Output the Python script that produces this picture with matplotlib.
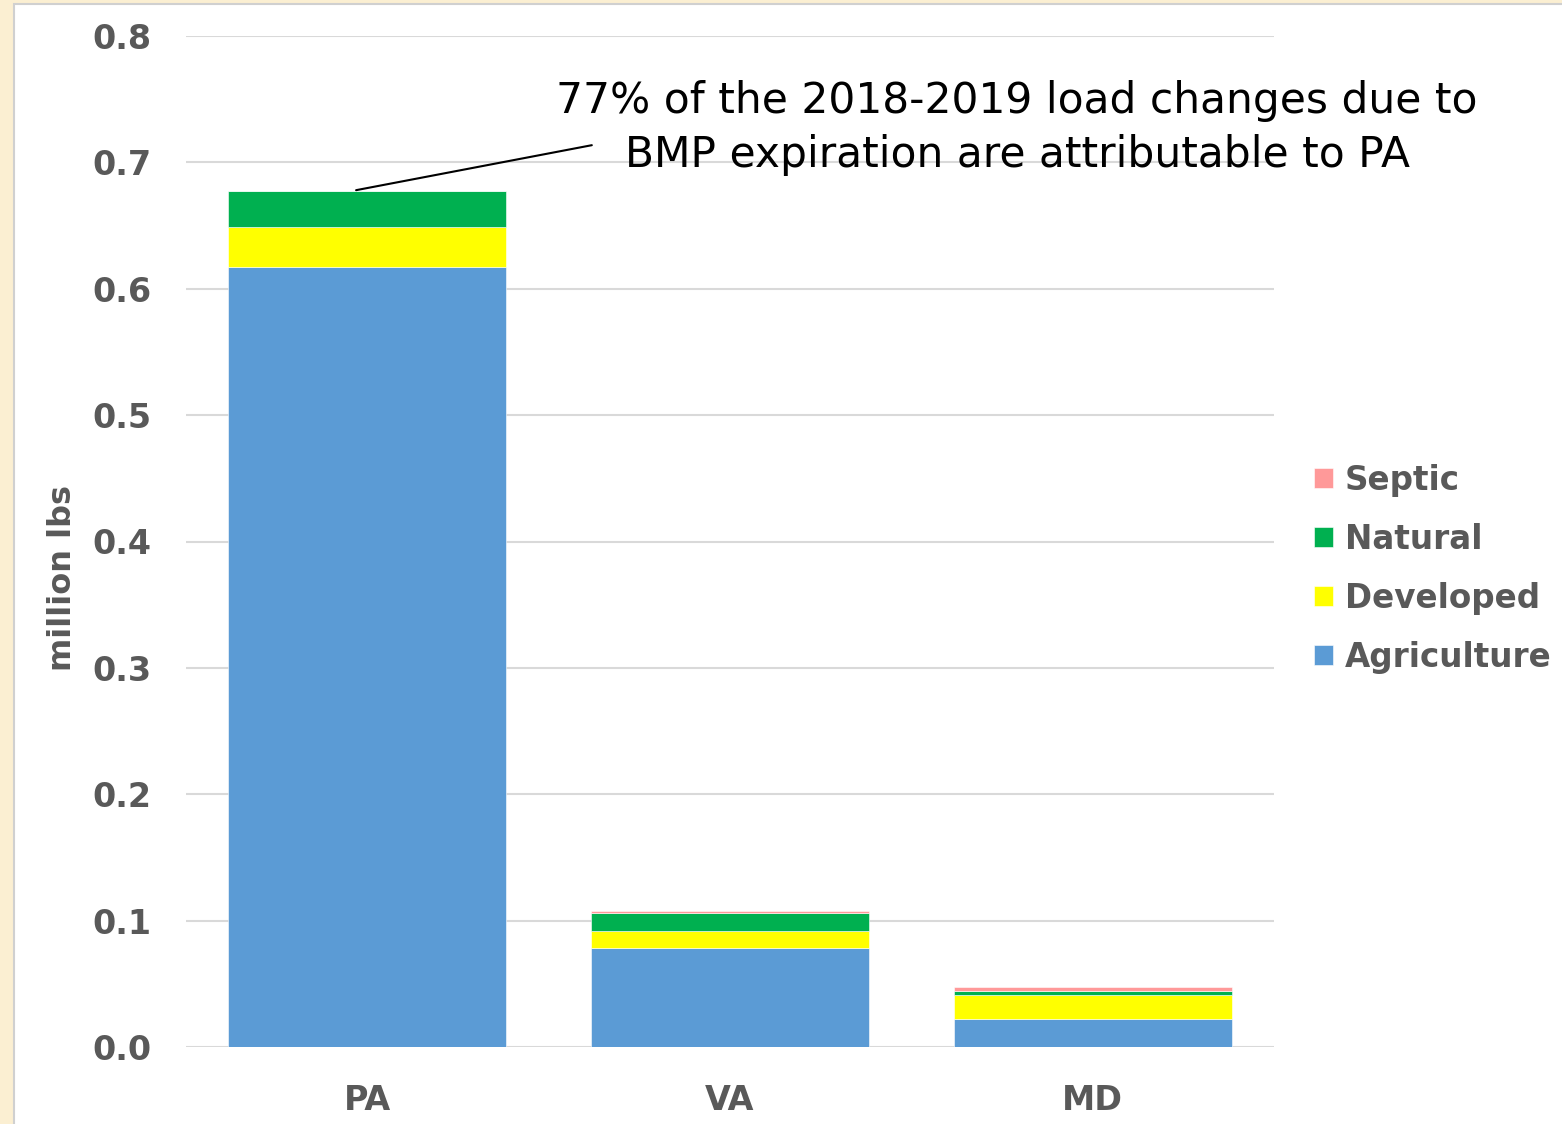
import numpy as np
import matplotlib
matplotlib.use('Agg')
import matplotlib.pyplot as plt
from matplotlib.patches import Rectangle

states = ['PA', 'VA', 'MD']
agriculture = [0.617, 0.078, 0.0224]
developed = [0.032, 0.0137, 0.019]
natural = [0.028, 0.0145, 0.0027]
septic = [0.0005, 0.0016, 0.0032]

series = [('Agriculture', agriculture, '#5b9bd5'),
          ('Developed', developed, '#ffff00'),
          ('Natural', natural, '#00b050'),
          ('Septic', septic, '#ff9999')]

gris = '#595959'

fig = plt.figure(figsize=(15.62, 11.24), dpi=100)
fig.patch.set_facecolor('#fbefd2')
# fond blanc avec bordure grise
fig.patches.append(Rectangle((14 / 1562, -0.01), 1.0, 1.01 - 4 / 1124,
                             transform=fig.transFigure, facecolor='white',
                             edgecolor='#d0d0d0', linewidth=1.5, zorder=-10))

ax = fig.add_axes([186 / 1562, 1 - 1047 / 1124, (1274 - 186) / 1562, (1047 - 36) / 1124])
ax.set_facecolor('none')

x = np.arange(len(states))
bas = np.zeros(len(states))
handles = {}
for nom, vals, couleur in series:
    b = ax.bar(x, vals, width=0.767, bottom=bas, color=couleur, label=nom,
               edgecolor='white', linewidth=0.4, zorder=3)
    handles[nom] = b
    bas = bas + np.array(vals)

ax.set_xlim(-0.5, 2.5)
ax.set_ylim(0, 0.8)
ax.set_yticks(np.arange(0, 0.81, 0.1))
ax.set_yticklabels(['%.1f' % v for v in np.arange(0, 0.81, 0.1)])
ax.yaxis.grid(True, color='#d9d9d9', linewidth=1.5, zorder=0)
ax.set_axisbelow(True)
for s in ax.spines.values():
    s.set_visible(False)
ax.tick_params(axis='both', length=0, labelsize=24, labelcolor=gris)
ax.tick_params(axis='y', pad=25)
ax.tick_params(axis='x', pad=27)
ax.set_xticks(x)
ax.set_xticklabels(states)
for lab in ax.get_xticklabels() + ax.get_yticklabels():
    lab.set_fontweight('bold')

ax.set_ylabel('million lbs', fontsize=23, fontweight='bold', color=gris)
ax.yaxis.set_label_coords(-0.099, 0.464)

ordre = ['Septic', 'Natural', 'Developed', 'Agriculture']
leg = ax.legend([handles[n] for n in ordre], ordre, loc='center left',
                bbox_to_anchor=(1.037, 0.473), frameon=False, handlelength=0.57,
                handleheight=0.57, handletextpad=0.36, labelspacing=0.8,
                borderaxespad=0, borderpad=0,
                prop={'size': 23.5, 'weight': 'bold'})
for t in leg.get_texts():
    t.set_color(gris)

ax.text(0.764, 0.909, '77% of the 2018-2019 load changes due to\nBMP expiration are attributable to PA',
        transform=ax.transAxes, ha='center', va='center', fontsize=30.5,
        color='black', linespacing=1.38)
ax.annotate('', xy=(-0.031, 0.678), xytext=(0.619, 0.7136),
            arrowprops=dict(arrowstyle='-', color='black', lw=1.5,
                            shrinkA=0, shrinkB=0))

fig.savefig('out.png', dpi=100, facecolor=fig.get_facecolor())
